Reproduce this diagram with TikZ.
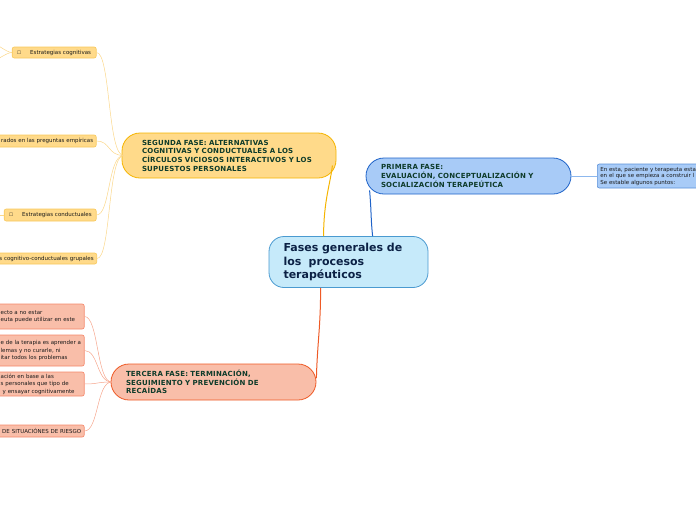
\documentclass[tikz,border=0pt]{standalone}
\usepackage{fontspec}
\setmainfont{DejaVu Sans}
\newfontfamily\phasefont[LetterSpace=3]{DejaVu Sans}
\usetikzlibrary{calc}
\definecolor{cenfill}{HTML}{C6EAFA}
\definecolor{cenline}{HTML}{4A9AD0}
\definecolor{cenText}{HTML}{0B2145}
\definecolor{phText}{HTML}{0E3B2A}
\definecolor{yfill}{HTML}{FFDA8A}
\definecolor{yline}{HTML}{F5B400}
\definecolor{ylfill}{HTML}{FFDA8A}
\definecolor{ylline}{HTML}{F8C85A}
\definecolor{ycon}{HTML}{FBD78A}
\definecolor{sfill}{HTML}{F9BEA9}
\definecolor{sline}{HTML}{EE5A26}
\definecolor{slline}{HTML}{F4876A}
\definecolor{scon}{HTML}{F6A58C}
\definecolor{bfill}{HTML}{A8CBF7}
\definecolor{bline}{HTML}{1F63C8}
\definecolor{blline}{HTML}{5A90D8}
\definecolor{bcon}{HTML}{8DB8EE}
\tikzset{
  x=1pt,y=-1pt,
  central/.style={draw=cenline,fill=cenfill,line width=0.8pt,rounded corners=15pt,
    minimum width=159pt,minimum height=51pt,inner xsep=14.5pt,text width=130pt,align=left,
    font=\fontsize{11}{13.5}\selectfont\bfseries,text=cenText},
  phase/.style={line width=0.8pt,rounded corners=18pt,inner ysep=0pt,align=left,
    font=\phasefont\fontsize{7}{8.7}\selectfont\bfseries,text=phText},
  leafbox/.style={line width=0.6pt,rounded corners=2pt,inner xsep=3pt,inner ysep=0pt,
    font=\fontsize{5.5}{7.6}\selectfont,text=black!90},
  yleaf/.style={leafbox,draw=ylline,fill=ylfill},
  sleaf/.style={leafbox,draw=slline,fill=sfill},
  bleaf/.style={leafbox,draw=blline,fill=bfill,font=\fontsize{5.5}{6.5}\selectfont},
  ycurve/.style={draw=ycon,line width=0.5pt},
  scurve/.style={draw=scon,line width=0.5pt},
}
\begin{document}
\begin{tikzpicture}
\useasboundingbox (0,0) rectangle (696,520);
% central
\node[central] (cen) at (348.5,262) {Fases generales de\\los\ \ procesos\\terapéuticos};
% phases
\node[phase,draw=yline,fill=yfill,minimum width=214pt,minimum height=45pt,inner xsep=20pt,text width=174pt]
  (seg) at (229,155.5) {SEGUNDA FASE: ALTERNATIVAS\\COGNITIVAS Y CONDUCTUALES A LOS\\CÍRCULOS VICIOSOS INTERACTIVOS Y LOS\\SUPUESTOS PERSONALES};
\node[phase,draw=bline,fill=bfill,minimum width=205pt,minimum height=36pt,inner xsep=15pt,text width=175pt]
  (pri) at (468.5,176) {PRIMERA FASE:\\EVALUACIÓN, CONCEPTUALIZACIÓN Y\\SOCIALIZACIÓN TERAPEÚTICA};
\node[phase,draw=sline,fill=sfill,minimum width=205pt,minimum height=36pt,inner xsep=15pt,text width=175pt]
  (ter) at (213.5,382) {TERCERA FASE: TERMINACIÓN,\\SEGUIMIENTO Y PREVENCIÓN DE\\RECAÍDAS};
% right leaf
\node[bleaf,anchor=west,minimum height=24pt,text width=130pt,align=left] (pl) at (597,176)
  {En esta, paciente y terapeuta esta\\en el que se empieza a construir l\\Se estable algunos puntos:};
% yellow leaves
\node[yleaf,anchor=east,minimum height=11pt,text width=78pt,align=left] (y1) at (96.5,52.5)
  {\hspace*{2pt}\fontsize{4.5}{5}\selectfont☐\fontsize{5.5}{7.6}\selectfont\hspace{9pt}Estrategias cognitivas};
\node[yleaf,anchor=east,minimum height=12pt,text width=120pt,align=right] (y2) at (96.5,141)
  {\mbox{rados en las preguntas empíricas}};
\node[yleaf,anchor=east,minimum height=12pt,text width=86pt,align=left] (y3) at (96.5,215)
  {\hspace*{2pt}\fontsize{4.5}{5}\selectfont☐\fontsize{5.5}{7.6}\selectfont\hspace{9pt}Estrategias conductuales};
\node[yleaf,anchor=east,minimum height=11pt,text width=120pt,align=right] (y4) at (97,258.5)
  {\mbox{s cognitivo-conductuales grupales}};
% salmon leaves
\node[sleaf,anchor=east,minimum height=25pt,text width=80.5pt,align=left] (s1) at (84.5,316.5)
  {ecto a no estar\\euta puede utilizar en este\\[1pt]};
\node[sleaf,anchor=east,minimum height=31pt,text width=80.5pt,align=left] (s2) at (84.5,350.5)
  {e de la terapia es aprender a\\lemas y no curarle, ni\\itar todos los problemas};
\node[sleaf,anchor=east,minimum height=24pt,text width=80.5pt,align=left] (s3) at (84.5,384)
  {ación en base a las\\s personales que tipo de\\\hspace*{2pt}y ensayar cognitivamente};
\node[sleaf,anchor=east,minimum height=12pt,text width=120pt,align=right] (s4) at (84.5,431)
  {\mbox{DE SITUACIÓNES DE RIESGO}};
% off-page coordinates
\coordinate (o1) at (-12,42);
\coordinate (o2) at (-12,62);
\coordinate (o3) at (-12,215);
% connectors: central to phases
\draw[draw=yline,line width=1pt] ($(cen.north west)+(55,0)$) .. controls ($(cen.north west)+(55,-35)$) and ($(seg.south east)+(-6,5)$) .. ($(seg.east)+(-4,10)$);
\draw[draw=bline,line width=1pt] ($(cen.north west)+(104,0)$) .. controls ($(cen.north west)+(102,-20)$) and ($(pri.south west)+(6,20)$) .. ($(pri.south west)+(4,-4)$);
\draw[draw=sline,line width=1pt] ($(cen.south west)+(52,0)$) .. controls ($(cen.south west)+(52,40)$) and ($(ter.east)+(1,-40)$) .. ($(ter.east)+(0,-4)$);
\draw[draw=bcon,line width=0.7pt] (pri.east) -- (pl.west);
% segunda to leaves
\foreach \l in {y1,y2,y3,y4}{
  \draw[ycurve] ($(seg.west)+(2,0)$) .. controls ($(seg.west)+(-14,0)$) and ($(\l.east)+(14,0)$) .. (\l.east);
}
\draw[ycurve] (y1.west) .. controls ($(y1.west)+(-6,0)$) and ($(o1)+(8,0)$) .. (o1);
\draw[ycurve] (y1.west) .. controls ($(y1.west)+(-6,0)$) and ($(o2)+(8,0)$) .. (o2);
\draw[ycurve] (y3.west) -- (o3);
% tercera to leaves
\foreach \l in {s1,s2,s3,s4}{
  \draw[scurve] ($(ter.west)+(1,0)$) .. controls ($(ter.west)+(-14,0)$) and ($(\l.east)+(14,0)$) .. (\l.east);
}
\end{tikzpicture}
\end{document}
